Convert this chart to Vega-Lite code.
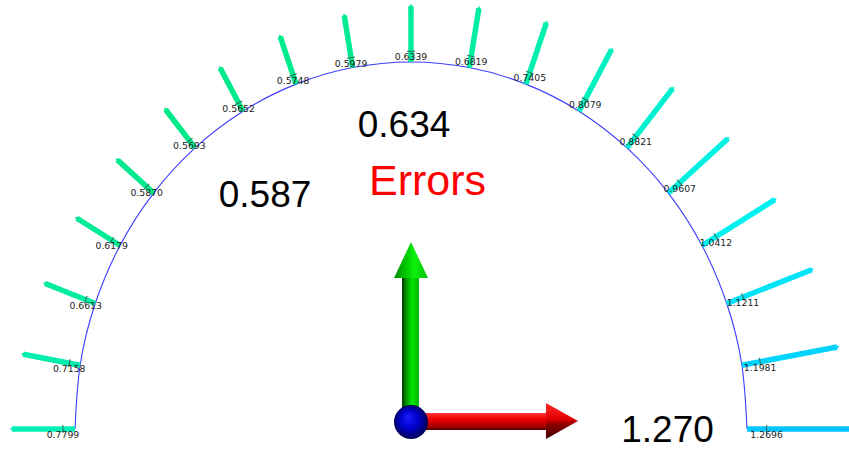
{
  "$schema": "https://vega.github.io/schema/vega-lite/v6.json",
  "width": 849,
  "height": 460,
  "padding": 0,
  "autosize": {"type": "none"},
  "background": "white",
  "config": {"view": {"stroke": null}},
  "data": {"values": [
    {"angle": 180, "error": 0.7799},
    {"angle": 170, "error": 0.7158},
    {"angle": 160, "error": 0.6613},
    {"angle": 150, "error": 0.6179},
    {"angle": 140, "error": 0.5870},
    {"angle": 130, "error": 0.5693},
    {"angle": 120, "error": 0.5652},
    {"angle": 110, "error": 0.5748},
    {"angle": 100, "error": 0.5979},
    {"angle": 90, "error": 0.6339},
    {"angle": 80, "error": 0.6819},
    {"angle": 70, "error": 0.7405},
    {"angle": 60, "error": 0.8079},
    {"angle": 50, "error": 0.8821},
    {"angle": 40, "error": 0.9607},
    {"angle": 30, "error": 1.0412},
    {"angle": 20, "error": 1.1211},
    {"angle": 10, "error": 1.1981},
    {"angle": 0, "error": 1.2696}
  ]},
  "transform": [
    {"calculate": "datum.angle * PI / 180", "as": "rad"},
    {"calculate": "cos(datum.rad)", "as": "bx"},
    {"calculate": "sin(datum.rad)", "as": "by"},
    {"calculate": "datum.bx * (1 + 0.24 * datum.error)", "as": "tx"},
    {"calculate": "datum.by * (1 + 0.24 * datum.error)", "as": "ty"},
    {"calculate": "datum.bx * (1 + 0.046 * datum.error)", "as": "kx"},
    {"calculate": "datum.by * (1 + 0.046 * datum.error)", "as": "ky"},
    {"calculate": "90 - atan2(1.0923 * datum.by, datum.bx) * 180 / PI", "as": "rot"}
  ],
  "layer": [
    {
      "mark": {"type": "line", "color": "#3c3cff", "strokeWidth": 1.1, "interpolate": "natural", "clip": true},
      "encoding": {
        "x": {"field": "bx", "type": "quantitative", "axis": null, "scale": {"domain": [-1.22321, 1.30357], "nice": false, "zero": false}},
        "y": {"field": "by", "type": "quantitative", "axis": null, "scale": {"domain": [-0.08447, 1.16894], "nice": false, "zero": false}},
        "order": {"field": "angle", "type": "quantitative"}
      }
    },
    {
      "mark": {"type": "rule", "strokeWidth": 5.5, "strokeCap": "butt", "clip": true},
      "encoding": {
        "x": {"field": "bx", "type": "quantitative", "axis": null, "scale": {"domain": [-1.22321, 1.30357], "nice": false, "zero": false}},
        "y": {"field": "by", "type": "quantitative", "axis": null, "scale": {"domain": [-0.08447, 1.16894], "nice": false, "zero": false}},
        "x2": {"field": "tx"},
        "y2": {"field": "ty"},
        "color": {"field": "error", "type": "quantitative", "legend": null, "scale": {"domain": [0.5652, 0.78, 1.04, 1.27], "range": ["#00e98a", "#00f0b8", "#00f2f0", "#00c4ff"]}}
      }
    },
    {
      "mark": {"type": "point", "shape": "triangle-up", "filled": true, "opacity": 1, "size": 32, "clip": true},
      "encoding": {
        "x": {"field": "tx", "type": "quantitative", "axis": null, "scale": {"domain": [-1.22321, 1.30357], "nice": false, "zero": false}},
        "y": {"field": "ty", "type": "quantitative", "axis": null, "scale": {"domain": [-0.08447, 1.16894], "nice": false, "zero": false}},
        "angle": {"field": "rot", "type": "quantitative", "scale": null},
        "color": {"field": "error", "type": "quantitative", "legend": null, "scale": {"domain": [0.5652, 0.78, 1.04, 1.27], "range": ["#00e98a", "#00f0b8", "#00f2f0", "#00c4ff"]}}
      }
    },
    {
      "mark": {"type": "point", "shape": "stroke", "size": 64, "strokeWidth": 1, "color": "#2f6b55", "opacity": 1, "clip": true},
      "encoding": {
        "x": {"field": "kx", "type": "quantitative", "axis": null, "scale": {"domain": [-1.22321, 1.30357], "nice": false, "zero": false}},
        "y": {"field": "ky", "type": "quantitative", "axis": null, "scale": {"domain": [-0.08447, 1.16894], "nice": false, "zero": false}},
        "angle": {"field": "rot", "type": "quantitative", "scale": null}
      }
    },
    {
      "mark": {"type": "text", "font": "DejaVu Sans", "fontSize": 9.3, "color": "#222222", "align": "center", "baseline": "top", "dy": 2, "clip": true},
      "encoding": {
        "x": {"field": "kx", "type": "quantitative", "axis": null, "scale": {"domain": [-1.22321, 1.30357], "nice": false, "zero": false}},
        "y": {"field": "ky", "type": "quantitative", "axis": null, "scale": {"domain": [-0.08447, 1.16894], "nice": false, "zero": false}},
        "text": {"field": "error", "type": "quantitative", "format": ".4f"}
      }
    },
    {
      "transform": [{"filter": "datum.angle == 90"}],
      "mark": {"type": "text", "font": "Liberation Sans", "fontSize": 37, "color": "black", "align": "center", "baseline": "alphabetic"},
      "encoding": {
        "x": {"datum": -0.0208, "type": "quantitative", "axis": null, "scale": {"domain": [-1.22321, 1.30357], "nice": false, "zero": false}},
        "y": {"datum": 0.7956, "type": "quantitative", "axis": null, "scale": {"domain": [-0.08447, 1.16894], "nice": false, "zero": false}},
        "text": {"field": "error", "type": "quantitative", "format": ".3f"}
      }
    },
    {
      "transform": [{"filter": "datum.angle == 140"}],
      "mark": {"type": "text", "font": "Liberation Sans", "fontSize": 37, "color": "black", "align": "center", "baseline": "alphabetic"},
      "encoding": {
        "x": {"datum": -0.4345, "type": "quantitative", "axis": null, "scale": {"domain": [-1.22321, 1.30357], "nice": false, "zero": false}},
        "y": {"datum": 0.6049, "type": "quantitative", "axis": null, "scale": {"domain": [-0.08447, 1.16894], "nice": false, "zero": false}},
        "text": {"field": "error", "type": "quantitative", "format": ".3f"}
      }
    },
    {
      "transform": [{"filter": "datum.angle == 0"}],
      "mark": {"type": "text", "font": "Liberation Sans", "fontSize": 37, "color": "black", "align": "center", "baseline": "alphabetic"},
      "encoding": {
        "x": {"datum": 0.7634, "type": "quantitative", "axis": null, "scale": {"domain": [-1.22321, 1.30357], "nice": false, "zero": false}},
        "y": {"datum": -0.0354, "type": "quantitative", "axis": null, "scale": {"domain": [-0.08447, 1.16894], "nice": false, "zero": false}},
        "text": {"field": "error", "type": "quantitative", "format": ".3f"}
      }
    },
    {
      "transform": [{"filter": "datum.angle == 0"}],
      "mark": {"type": "text", "font": "Liberation Sans", "fontSize": 43, "color": "#ff0000", "align": "center", "baseline": "alphabetic", "text": "Errors"},
      "encoding": {
        "x": {"datum": 0.0491, "type": "quantitative", "axis": null, "scale": {"domain": [-1.22321, 1.30357], "nice": false, "zero": false}},
        "y": {"datum": 0.6376, "type": "quantitative", "axis": null, "scale": {"domain": [-0.08447, 1.16894], "nice": false, "zero": false}}
      }
    },
    {
      "transform": [{"filter": "datum.angle == 0"}],
      "mark": {"type": "rect", "fill": {"gradient": "linear", "x1": 0, "y1": 0, "x2": 0, "y2": 1, "stops": [{"offset": 0, "color": "#ff3a3a"}, {"offset": 0.35, "color": "#f00000"}, {"offset": 0.75, "color": "#b00000"}, {"offset": 1, "color": "#500000"}]}},
      "encoding": {
        "x": {"datum": 0, "type": "quantitative", "axis": null, "scale": {"domain": [-1.22321, 1.30357], "nice": false, "zero": false}},
        "x2": {"datum": 0.4018},
        "y": {"datum": 0.0436, "type": "quantitative", "axis": null, "scale": {"domain": [-0.08447, 1.16894], "nice": false, "zero": false}},
        "y2": {"datum": -0.0027}
      }
    },
    {
      "transform": [{"filter": "datum.angle == 0"}],
      "mark": {"type": "point", "filled": true, "opacity": 1, "size": 1296, "shape": "M -0.889 -1 L 0.889 0 L -0.889 1 Z", "fill": {"gradient": "linear", "x1": 0, "y1": 0, "x2": 0, "y2": 1, "stops": [{"offset": 0, "color": "#ff2a2a"}, {"offset": 0.45, "color": "#e00000"}, {"offset": 0.6, "color": "#8a0000"}, {"offset": 1, "color": "#400000"}]}},
      "encoding": {
        "x": {"datum": 0.4494, "type": "quantitative", "axis": null, "scale": {"domain": [-1.22321, 1.30357], "nice": false, "zero": false}},
        "y": {"datum": 0.0218, "type": "quantitative", "axis": null, "scale": {"domain": [-0.08447, 1.16894], "nice": false, "zero": false}}
      }
    },
    {
      "transform": [{"filter": "datum.angle == 90"}],
      "mark": {"type": "rect", "fill": {"gradient": "linear", "x1": 0, "y1": 0, "x2": 1, "y2": 0, "stops": [{"offset": 0, "color": "#003a00"}, {"offset": 0.3, "color": "#00a000"}, {"offset": 0.6, "color": "#00e600"}, {"offset": 1, "color": "#00b400"}]}},
      "encoding": {
        "x": {"datum": -0.0268, "type": "quantitative", "axis": null, "scale": {"domain": [-1.22321, 1.30357], "nice": false, "zero": false}},
        "x2": {"datum": 0.0238},
        "y": {"datum": 0.019, "type": "quantitative", "axis": null, "scale": {"domain": [-0.08447, 1.16894], "nice": false, "zero": false}},
        "y2": {"datum": 0.4114}
      }
    },
    {
      "transform": [{"filter": "datum.angle == 90"}],
      "mark": {"type": "point", "filled": true, "opacity": 1, "size": 1296, "shape": "M -0.944 1 L 0 -1 L 0.944 1 Z", "fill": {"gradient": "linear", "x1": 0, "y1": 0, "x2": 1, "y2": 0, "stops": [{"offset": 0, "color": "#008a00"}, {"offset": 0.4, "color": "#00d000"}, {"offset": 0.6, "color": "#10f010"}, {"offset": 1, "color": "#00c000"}]}},
      "encoding": {
        "x": {"datum": 0, "type": "quantitative", "axis": null, "scale": {"domain": [-1.22321, 1.30357], "nice": false, "zero": false}},
        "y": {"datum": 0.4605, "type": "quantitative", "axis": null, "scale": {"domain": [-0.08447, 1.16894], "nice": false, "zero": false}}
      }
    },
    {
      "transform": [{"filter": "datum.angle == 90"}],
      "mark": {"type": "point", "shape": "circle", "filled": true, "opacity": 1, "size": 1156, "fill": {"gradient": "radial", "x1": 0.4, "y1": 0.35, "r1": 0, "x2": 0.5, "y2": 0.5, "r2": 0.55, "stops": [{"offset": 0, "color": "#1a1aff"}, {"offset": 0.5, "color": "#0000c8"}, {"offset": 1, "color": "#000040"}]}},
      "encoding": {
        "x": {"datum": 0, "type": "quantitative", "axis": null, "scale": {"domain": [-1.22321, 1.30357], "nice": false, "zero": false}},
        "y": {"datum": 0.019, "type": "quantitative", "axis": null, "scale": {"domain": [-0.08447, 1.16894], "nice": false, "zero": false}}
      }
    }
  ]
}
